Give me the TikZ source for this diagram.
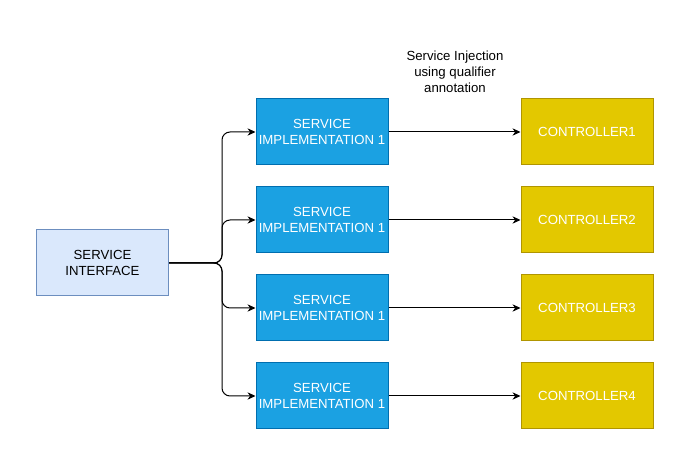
\documentclass[tikz,border=0pt]{standalone}
\usepackage{fontspec}
\setmainfont{Liberation Sans}
\usetikzlibrary{arrows.meta,positioning,calc}
\definecolor{ifacefill}{RGB}{218,232,252}
\definecolor{ifacedraw}{RGB}{108,142,191}
\definecolor{implfill}{RGB}{27,161,226}
\definecolor{impldraw}{RGB}{0,110,175}
\definecolor{ctrlfill}{RGB}{227,200,0}
\definecolor{ctrldraw}{RGB}{176,149,0}

\tikzset{
    box/.style={minimum width=99pt, minimum height=49.5pt, align=center, inner sep=0pt,
        font=\fontsize{9.9}{12}\selectfont, line width=0.75pt},
    ifacebox/.style={box, fill=ifacefill, draw=ifacedraw, text=black},
    implbox/.style={box, fill=implfill, draw=impldraw, text=white},
    ctrlbox/.style={box, fill=ctrlfill, draw=ctrldraw, text=white},
    link/.style={line width=0.75pt, -{Stealth[length=6pt,width=5.5pt]}}
}

\begin{document}
\begin{tikzpicture}[x=0.75pt, y=-0.75pt]
    \useasboundingbox (0,0) rectangle (693,466);

    % Interface
    \node[ifacebox] (iface) at (102.5,263) {SERVICE\\INTERFACE};
    \coordinate (branch) at (222,263);

    % Label above the injection arrows
    \node[align=center, font=\fontsize{9.9}{11.8}\selectfont] (note) at (455,72)
        {Service Injection\\using qualifier\\annotation};

    % Implementations and controllers
    \foreach \i in {1,...,4} {
        \node[implbox] (impl\i) at (322,{132+(\i-1)*88}) {SERVICE\\IMPLEMENTATION 1};
        \node[ctrlbox, right=99pt of impl\i] (ctrl\i) {CONTROLLER\i};
        \draw[link] (impl\i) -- (ctrl\i);
        \draw[link, rounded corners=6pt] (iface.east) -- (branch) |- (impl\i.west);
    }
\end{tikzpicture}
\end{document}
